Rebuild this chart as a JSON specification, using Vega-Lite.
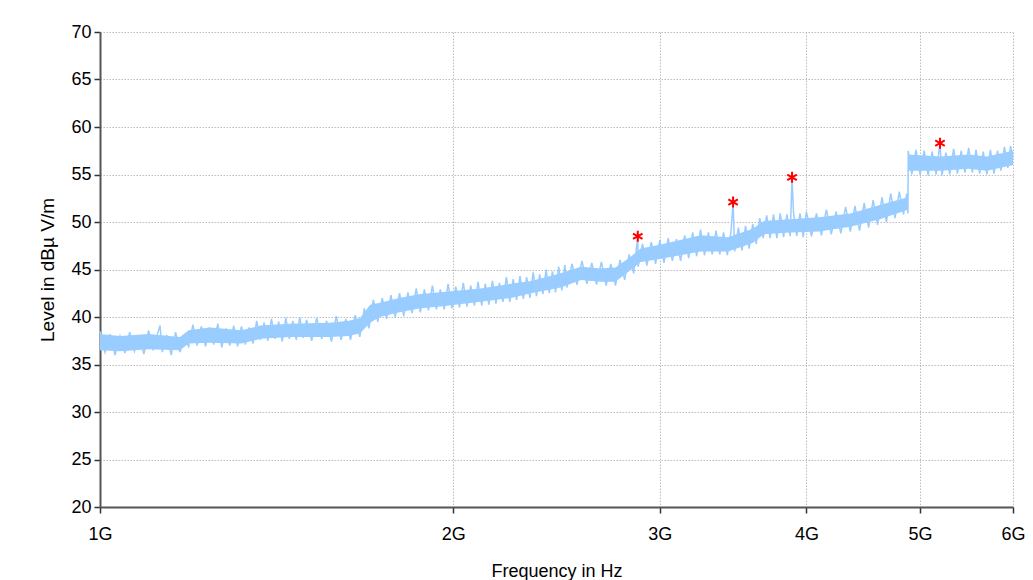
{
  "$schema": "https://vega.github.io/schema/vega-lite/v6.json",
  "width": 913,
  "height": 475,
  "autosize": {"type": "none"},
  "padding": {"left": 100, "top": 32, "right": 20, "bottom": 73},
  "background": "white",
  "config": {
    "font": "Liberation Sans",
    "view": {"stroke": null},
    "axis": {
      "labelFont": "Liberation Sans",
      "titleFont": "Liberation Sans",
      "labelColor": "#000000",
      "titleColor": "#000000",
      "titleFontWeight": "normal",
      "labelFontSize": 18,
      "domainColor": "#555555",
      "domainWidth": 2,
      "tickColor": "#333333",
      "tickWidth": 1.5,
      "gridColor": "#bdbdbd",
      "gridDash": [1.5, 1.5],
      "gridWidth": 1
    }
  },
  "datasets": {
    "trace": [
      {"f": 1.00, "v": 38.5}, {"f": 1.01, "v": 36.3}, {"f": 1.02, "v": 38.2}, {"f": 1.03, "v": 36.0},
      {"f": 1.04, "v": 38.0}, {"f": 1.05, "v": 36.2}, {"f": 1.06, "v": 38.4}, {"f": 1.07, "v": 36.4},
      {"f": 1.08, "v": 37.9}, {"f": 1.09, "v": 36.1}, {"f": 1.10, "v": 38.6}, {"f": 1.11, "v": 36.5},
      {"f": 1.12, "v": 38.3}, {"f": 1.125, "v": 39.1}, {"f": 1.13, "v": 36.3}, {"f": 1.14, "v": 38.1},
      {"f": 1.15, "v": 36.0}, {"f": 1.16, "v": 38.4}, {"f": 1.17, "v": 36.3}, {"f": 1.18, "v": 37.9},
      {"f": 1.19, "v": 36.9}, {"f": 1.20, "v": 39.2}, {"f": 1.21, "v": 37.0}, {"f": 1.22, "v": 39.0},
      {"f": 1.23, "v": 36.9}, {"f": 1.24, "v": 38.9}, {"f": 1.25, "v": 37.1}, {"f": 1.26, "v": 39.3},
      {"f": 1.27, "v": 36.8}, {"f": 1.28, "v": 38.8}, {"f": 1.29, "v": 37.0}, {"f": 1.30, "v": 39.1},
      {"f": 1.31, "v": 36.9}, {"f": 1.32, "v": 39.0}, {"f": 1.33, "v": 37.1}, {"f": 1.34, "v": 38.9},
      {"f": 1.35, "v": 37.2}, {"f": 1.36, "v": 39.6}, {"f": 1.37, "v": 37.6}, {"f": 1.38, "v": 39.4},
      {"f": 1.39, "v": 37.5}, {"f": 1.40, "v": 39.8}, {"f": 1.41, "v": 37.7}, {"f": 1.42, "v": 39.5},
      {"f": 1.43, "v": 37.4}, {"f": 1.44, "v": 39.9}, {"f": 1.45, "v": 37.7}, {"f": 1.46, "v": 39.6},
      {"f": 1.47, "v": 37.6}, {"f": 1.48, "v": 40.0}, {"f": 1.49, "v": 37.8},
      {"f": 1.500, "v": 39.7}, {"f": 1.515, "v": 37.5}, {"f": 1.530, "v": 39.9}, {"f": 1.545, "v": 37.7},
      {"f": 1.560, "v": 39.6}, {"f": 1.575, "v": 37.4}, {"f": 1.590, "v": 40.1}, {"f": 1.605, "v": 37.6},
      {"f": 1.620, "v": 39.8}, {"f": 1.635, "v": 37.6}, {"f": 1.650, "v": 40.2}, {"f": 1.665, "v": 37.9},
      {"f": 1.680, "v": 40.9}, {"f": 1.695, "v": 38.8}, {"f": 1.710, "v": 41.8}, {"f": 1.725, "v": 39.5},
      {"f": 1.740, "v": 42.0}, {"f": 1.755, "v": 39.8}, {"f": 1.770, "v": 42.3}, {"f": 1.785, "v": 40.0},
      {"f": 1.800, "v": 42.5}, {"f": 1.815, "v": 40.1}, {"f": 1.830, "v": 42.6}, {"f": 1.845, "v": 40.4},
      {"f": 1.860, "v": 43.0}, {"f": 1.875, "v": 40.5}, {"f": 1.890, "v": 42.9}, {"f": 1.905, "v": 40.7},
      {"f": 1.920, "v": 43.3}, {"f": 1.935, "v": 40.8}, {"f": 1.950, "v": 42.9}, {"f": 1.965, "v": 40.8},
      {"f": 1.980, "v": 43.5}, {"f": 1.995, "v": 40.9}, {"f": 2.010, "v": 43.2}, {"f": 2.025, "v": 41.0},
      {"f": 2.040, "v": 43.6}, {"f": 2.055, "v": 41.1}, {"f": 2.070, "v": 43.3}, {"f": 2.085, "v": 41.2},
      {"f": 2.100, "v": 43.7}, {"f": 2.115, "v": 41.2}, {"f": 2.130, "v": 43.5}, {"f": 2.145, "v": 41.3},
      {"f": 2.160, "v": 43.8}, {"f": 2.175, "v": 41.4}, {"f": 2.190, "v": 43.6}, {"f": 2.205, "v": 41.6},
      {"f": 2.220, "v": 44.2}, {"f": 2.235, "v": 41.6}, {"f": 2.250, "v": 44.0}, {"f": 2.265, "v": 41.8},
      {"f": 2.280, "v": 44.3}, {"f": 2.295, "v": 41.9}, {"f": 2.310, "v": 44.2}, {"f": 2.325, "v": 42.0},
      {"f": 2.340, "v": 44.7}, {"f": 2.355, "v": 42.2}, {"f": 2.370, "v": 44.5}, {"f": 2.385, "v": 42.4},
      {"f": 2.400, "v": 45.0}, {"f": 2.415, "v": 42.5}, {"f": 2.430, "v": 44.8}, {"f": 2.445, "v": 42.6},
      {"f": 2.460, "v": 45.3}, {"f": 2.475, "v": 42.8}, {"f": 2.490, "v": 45.5},
      {"f": 2.500, "v": 43.1}, {"f": 2.525, "v": 45.6}, {"f": 2.550, "v": 43.4}, {"f": 2.575, "v": 45.9},
      {"f": 2.600, "v": 43.5}, {"f": 2.625, "v": 45.7}, {"f": 2.650, "v": 43.4}, {"f": 2.675, "v": 45.8},
      {"f": 2.700, "v": 43.3}, {"f": 2.725, "v": 45.6}, {"f": 2.750, "v": 43.3}, {"f": 2.775, "v": 46.0},
      {"f": 2.800, "v": 43.9}, {"f": 2.825, "v": 46.6}, {"f": 2.850, "v": 44.6}, {"f": 2.873, "v": 48.5},
      {"f": 2.875, "v": 45.3}, {"f": 2.900, "v": 47.7}, {"f": 2.925, "v": 45.4}, {"f": 2.950, "v": 47.9},
      {"f": 2.975, "v": 45.6}, {"f": 3.000, "v": 48.1}, {"f": 3.025, "v": 45.7}, {"f": 3.050, "v": 48.3},
      {"f": 3.075, "v": 45.9}, {"f": 3.100, "v": 48.2}, {"f": 3.125, "v": 45.9}, {"f": 3.150, "v": 48.6},
      {"f": 3.175, "v": 46.2}, {"f": 3.200, "v": 48.9}, {"f": 3.225, "v": 46.4}, {"f": 3.250, "v": 49.2},
      {"f": 3.275, "v": 46.5}, {"f": 3.300, "v": 48.9}, {"f": 3.325, "v": 46.6}, {"f": 3.350, "v": 49.1},
      {"f": 3.375, "v": 46.6}, {"f": 3.400, "v": 48.9}, {"f": 3.425, "v": 46.5}, {"f": 3.450, "v": 49.0},
      {"f": 3.464, "v": 52.1}, {"f": 3.475, "v": 46.9}, {"f": 3.500, "v": 49.4}, {"f": 3.525, "v": 47.0},
      {"f": 3.550, "v": 49.6}, {"f": 3.575, "v": 47.2}, {"f": 3.600, "v": 49.8}, {"f": 3.625, "v": 47.7},
      {"f": 3.650, "v": 50.4}, {"f": 3.675, "v": 48.3}, {"f": 3.700, "v": 50.7}, {"f": 3.725, "v": 48.3},
      {"f": 3.750, "v": 50.8}, {"f": 3.775, "v": 48.3}, {"f": 3.800, "v": 50.9}, {"f": 3.825, "v": 48.4},
      {"f": 3.850, "v": 50.8}, {"f": 3.875, "v": 48.5}, {"f": 3.889, "v": 54.7}, {"f": 3.900, "v": 51.0},
      {"f": 3.925, "v": 48.5}, {"f": 3.950, "v": 50.9}, {"f": 3.975, "v": 48.4},
      {"f": 4.00, "v": 51.1}, {"f": 4.04, "v": 48.5}, {"f": 4.08, "v": 50.9}, {"f": 4.12, "v": 48.6},
      {"f": 4.16, "v": 51.3}, {"f": 4.20, "v": 48.7}, {"f": 4.24, "v": 51.1}, {"f": 4.28, "v": 48.8},
      {"f": 4.32, "v": 51.6}, {"f": 4.36, "v": 49.0}, {"f": 4.40, "v": 51.7}, {"f": 4.44, "v": 49.1},
      {"f": 4.48, "v": 52.0}, {"f": 4.52, "v": 49.4}, {"f": 4.56, "v": 52.3}, {"f": 4.60, "v": 49.7},
      {"f": 4.64, "v": 52.6}, {"f": 4.68, "v": 50.0}, {"f": 4.72, "v": 53.0}, {"f": 4.76, "v": 50.4},
      {"f": 4.80, "v": 53.2}, {"f": 4.84, "v": 50.8}, {"f": 4.87, "v": 53.0}, {"f": 4.882, "v": 50.9},
      {"f": 4.885, "v": 57.5}, {"f": 4.92, "v": 55.0}, {"f": 4.96, "v": 57.6}, {"f": 5.00, "v": 55.0},
      {"f": 5.04, "v": 57.5}, {"f": 5.08, "v": 54.9}, {"f": 5.12, "v": 57.4}, {"f": 5.16, "v": 55.0},
      {"f": 5.199, "v": 58.3}, {"f": 5.22, "v": 54.9}, {"f": 5.26, "v": 57.3}, {"f": 5.30, "v": 55.0},
      {"f": 5.34, "v": 57.7}, {"f": 5.38, "v": 55.1}, {"f": 5.42, "v": 57.5}, {"f": 5.46, "v": 55.2},
      {"f": 5.50, "v": 57.8}, {"f": 5.54, "v": 55.2}, {"f": 5.58, "v": 57.6}, {"f": 5.62, "v": 55.1},
      {"f": 5.66, "v": 57.4}, {"f": 5.70, "v": 55.0}, {"f": 5.74, "v": 57.6}, {"f": 5.78, "v": 55.1},
      {"f": 5.82, "v": 57.5}, {"f": 5.86, "v": 55.4}, {"f": 5.90, "v": 57.9}, {"f": 5.94, "v": 55.7},
      {"f": 5.97, "v": 58.0}, {"f": 6.00, "v": 56.8}
    ],
    "band": [
      {"f": 1.00, "lo": 36.5, "hi": 38.2}, {"f": 1.04, "lo": 36.4, "hi": 38.0},
      {"f": 1.10, "lo": 36.6, "hi": 38.2}, {"f": 1.17, "lo": 36.5, "hi": 37.9},
      {"f": 1.19, "lo": 37.2, "hi": 38.6}, {"f": 1.24, "lo": 37.3, "hi": 38.9},
      {"f": 1.32, "lo": 37.2, "hi": 38.6}, {"f": 1.37, "lo": 37.7, "hi": 39.1},
      {"f": 1.45, "lo": 37.9, "hi": 39.3}, {"f": 1.57, "lo": 37.9, "hi": 39.4},
      {"f": 1.63, "lo": 38.0, "hi": 39.6}, {"f": 1.666, "lo": 38.3, "hi": 39.9},
      {"f": 1.699, "lo": 39.4, "hi": 41.3}, {"f": 1.732, "lo": 40.0, "hi": 41.5},
      {"f": 1.80, "lo": 40.5, "hi": 42.0}, {"f": 1.87, "lo": 40.9, "hi": 42.4},
      {"f": 1.95, "lo": 41.1, "hi": 42.6}, {"f": 2.11, "lo": 41.6, "hi": 43.0},
      {"f": 2.24, "lo": 42.0, "hi": 43.5}, {"f": 2.33, "lo": 42.5, "hi": 43.8},
      {"f": 2.47, "lo": 43.1, "hi": 44.6}, {"f": 2.57, "lo": 43.9, "hi": 45.3},
      {"f": 2.67, "lo": 43.7, "hi": 45.1}, {"f": 2.75, "lo": 43.7, "hi": 45.2},
      {"f": 2.83, "lo": 44.9, "hi": 46.3}, {"f": 2.89, "lo": 45.8, "hi": 47.2},
      {"f": 3.00, "lo": 46.1, "hi": 47.6}, {"f": 3.25, "lo": 46.9, "hi": 48.6},
      {"f": 3.43, "lo": 46.9, "hi": 48.4}, {"f": 3.60, "lo": 47.8, "hi": 49.3},
      {"f": 3.68, "lo": 48.7, "hi": 50.1}, {"f": 3.87, "lo": 48.9, "hi": 50.3},
      {"f": 4.10, "lo": 49.0, "hi": 50.5}, {"f": 4.36, "lo": 49.5, "hi": 50.9},
      {"f": 4.62, "lo": 50.3, "hi": 51.8}, {"f": 4.88, "lo": 51.3, "hi": 52.6},
      {"f": 4.885, "lo": 55.4, "hi": 57.1}, {"f": 5.20, "lo": 55.4, "hi": 56.9},
      {"f": 5.50, "lo": 55.6, "hi": 57.1}, {"f": 5.70, "lo": 55.4, "hi": 56.9},
      {"f": 6.00, "lo": 56.0, "hi": 57.5}
    ],
    "peaks": [
      {"f": 2.873, "v": 48.5}, {"f": 3.464, "v": 52.1}, {"f": 3.889, "v": 54.7}, {"f": 5.199, "v": 58.3}
    ]
  },
  "encoding": {
    "x": {
      "field": "f",
      "type": "quantitative",
      "scale": {"type": "log", "domain": [1, 6], "nice": false},
      "axis": {
        "values": [1, 2, 3, 4, 5, 6],
        "labelExpr": "datum.value + 'G'",
        "title": "Frequency in Hz",
        "titleFontSize": 18,
        "titlePadding": 19,
        "tickSize": 6,
        "labelPadding": 12,
        "labelFlush": false
      }
    }
  },
  "layer": [
    {
      "data": {"name": "band"},
      "mark": {"type": "area", "color": "#99ccff", "opacity": 1},
      "encoding": {
        "y": {
          "field": "lo",
          "type": "quantitative",
          "scale": {"domain": [20, 70], "nice": false, "zero": false},
          "axis": {
            "values": [20, 22.5, 25, 27.5, 30, 32.5, 35, 37.5, 40, 42.5, 45, 47.5, 50, 52.5, 55, 57.5, 60, 62.5, 65, 67.5, 70],
            "labelExpr": "datum.value % 5 === 0 ? datum.label : ''",
            "title": "Level in dBµ V/m",
            "titleFontSize": 19,
            "titlePadding": 13,
            "tickSize": 6,
            "labelPadding": 3,
            "labelFlush": false
          }
        },
        "y2": {"field": "hi"}
      }
    },
    {
      "data": {"name": "trace"},
      "mark": {"type": "line", "color": "#99ccff", "strokeWidth": 1.5},
      "encoding": {"y": {"field": "v", "type": "quantitative"}}
    },
    {
      "data": {"name": "peaks"},
      "mark": {
        "type": "point",
        "shape": "M0,-1L0,1M-0.87,-0.5L0.87,0.5M-0.87,0.5L0.87,-0.5",
        "filled": false,
        "color": "#ff0000",
        "size": 120,
        "strokeWidth": 2,
        "opacity": 1
      },
      "encoding": {"y": {"field": "v", "type": "quantitative"}}
    }
  ]
}
